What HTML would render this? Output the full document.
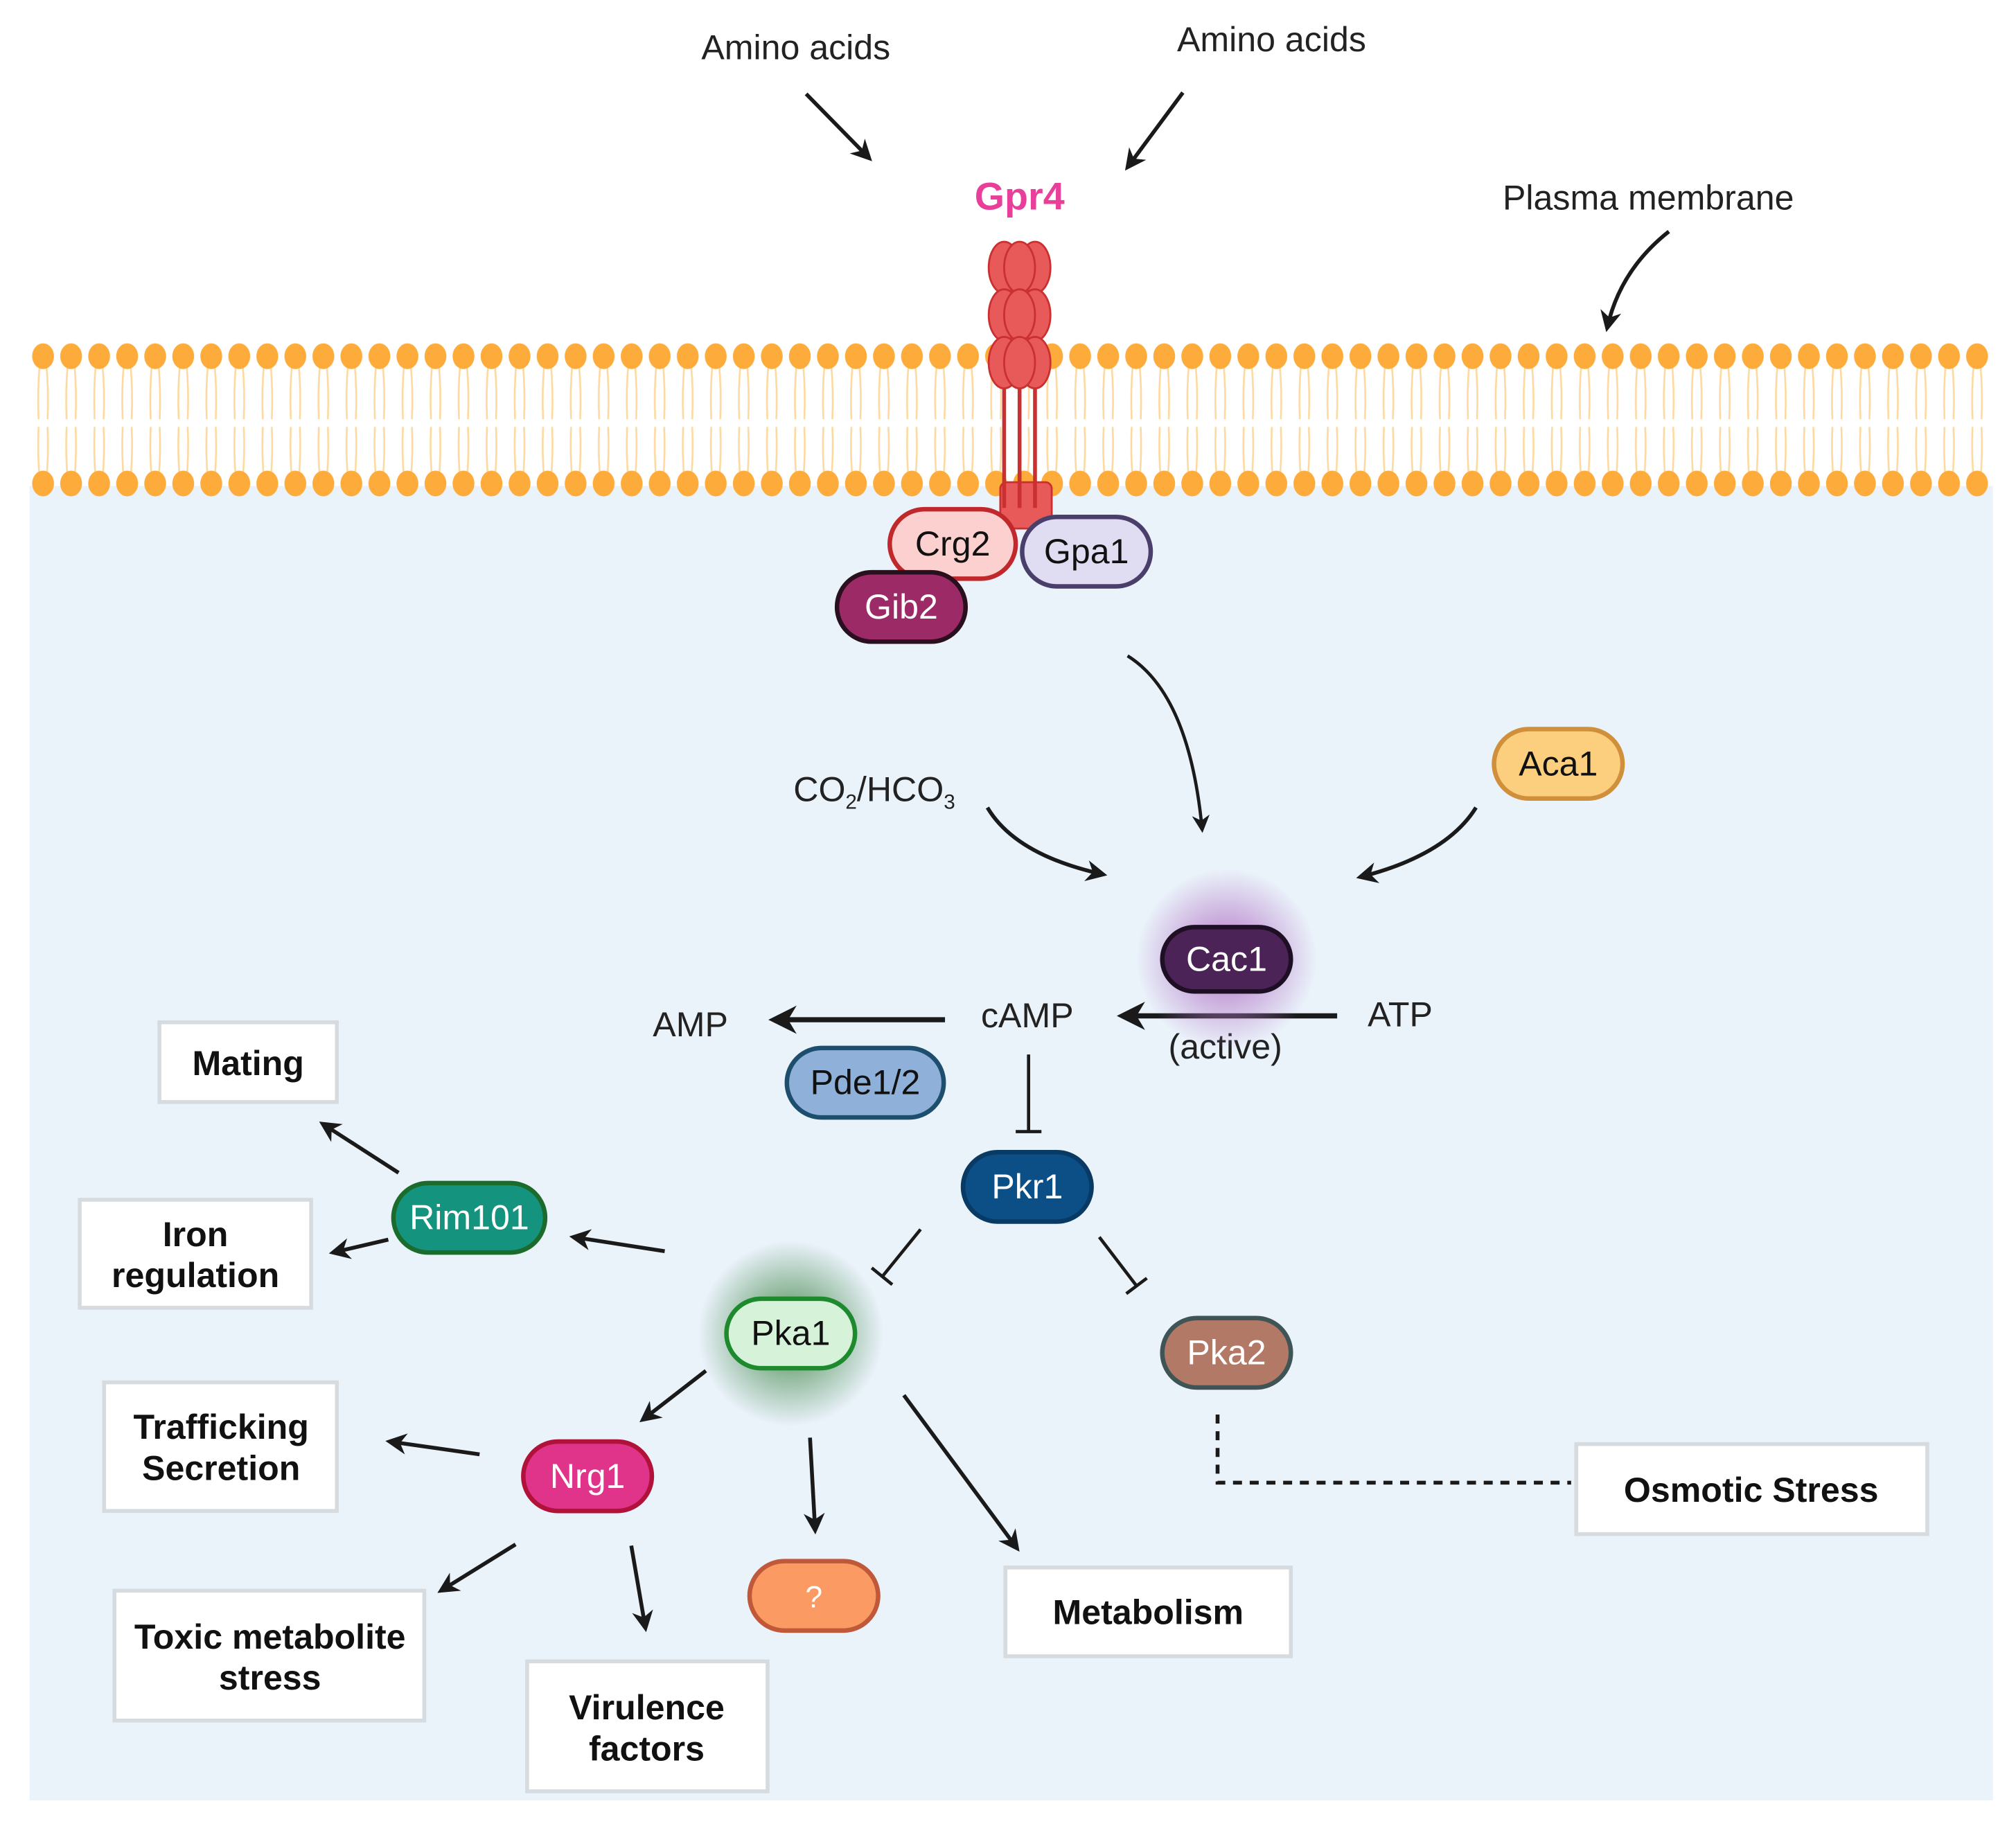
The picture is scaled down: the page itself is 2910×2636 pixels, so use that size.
<!DOCTYPE html>
<html><head><meta charset="utf-8"><style>html,body{margin:0;padding:0;background:#fff}svg{display:block}text{font-family:"Liberation Sans",sans-serif}</style></head>
<body>
<svg width="2910" height="2636" viewBox="0 0 1568 1420" preserveAspectRatio="none" xmlns="http://www.w3.org/2000/svg">
<defs>
<marker id="ar" viewBox="0 0 10 10" refX="8" refY="5" markerWidth="5.5" markerHeight="5.5" orient="auto"><path d="M0,0 L10,5 L0,10 L3,5 z" fill="#1a1a1a"/></marker>
<pattern id="lip" x="23" y="260" width="21.8" height="140" patternUnits="userSpaceOnUse">
<g stroke="#fdd9a0" stroke-width="1.4" fill="none">
<path d="M8,22 Q6,44 7,66"/><path d="M13,22 Q15,44 14,66"/>
<path d="M7,72 Q6,94 8,114"/><path d="M14,72 Q15,94 13,114"/>
</g>
<ellipse cx="10.5" cy="17" rx="8.5" ry="10" fill="#fdab3a"/>
<ellipse cx="10.5" cy="116" rx="8.5" ry="10" fill="#fdab3a"/>
</pattern>
<radialGradient id="gp"><stop offset="0.3" stop-color="#b47ac8" stop-opacity="0.75"/><stop offset="1" stop-color="#b47ac8" stop-opacity="0"/></radialGradient>
<radialGradient id="gg"><stop offset="0.3" stop-color="#4f8f56" stop-opacity="0.75"/><stop offset="1" stop-color="#4f8f56" stop-opacity="0"/></radialGradient>
</defs>
<rect x="23" y="378" width="1527" height="1022" fill="#eaf2fa"/>
<rect x="23" y="260" width="1527" height="130" fill="url(#lip)"/>

<g fill="#e85a5a" stroke="#c9302f" stroke-width="1.5">
<rect x="778" y="375" width="40" height="36" rx="5"/>
<line x1="781" y1="300" x2="781" y2="395" stroke-width="3"/><line x1="793" y1="300" x2="793" y2="395" stroke-width="3"/><line x1="805" y1="300" x2="805" y2="395" stroke-width="3"/>
<ellipse cx="781" cy="208" rx="12" ry="20"/><ellipse cx="805" cy="208" rx="12" ry="20"/><ellipse cx="793" cy="208" rx="12" ry="20"/>
<ellipse cx="781" cy="245" rx="12" ry="20"/><ellipse cx="805" cy="245" rx="12" ry="20"/><ellipse cx="793" cy="245" rx="12" ry="20"/>
<ellipse cx="781" cy="282" rx="12" ry="20"/><ellipse cx="805" cy="282" rx="12" ry="20"/><ellipse cx="793" cy="282" rx="12" ry="20"/>
</g>
<text x="793" y="163" font-size="30" font-weight="bold" fill="#e8409a" text-anchor="middle">Gpr4</text>
<g font-size="27" fill="#222" text-anchor="middle">
<text x="619" y="46">Amino acids</text>
<text x="989" y="40">Amino acids</text>
<text x="1282" y="163">Plasma membrane</text>
<text x="680" y="623">CO<tspan font-size="16" dy="6">2</tspan><tspan dy="-6">/HCO</tspan><tspan font-size="16" dy="6">3</tspan></text>
<text x="799" y="799">cAMP</text>
<text x="1089" y="798">ATP</text>
<text x="953" y="823">(active)</text>
<text x="537" y="806">AMP</text>
</g>
<g stroke="#1a1a1a" stroke-width="3" fill="none" marker-end="url(#ar)">
<line x1="627" y1="73" x2="676" y2="123"/>
<line x1="920" y1="72" x2="877" y2="130"/>
<path d="M1298,180 Q1260,210 1250,255"/>
<path d="M877,510 Q925,540 935,645" stroke-width="2.5"/>
<path d="M768,628 Q790,665 858,680"/>
<path d="M1148,628 Q1125,665 1058,682"/>
<line x1="1040" y1="790" x2="873" y2="790" stroke-width="4"/>
<line x1="735" y1="793" x2="602" y2="793" stroke-width="4"/>
<line x1="517" y1="973" x2="446" y2="962"/>
<line x1="310" y1="912" x2="251" y2="874"/>
<line x1="302" y1="964" x2="259" y2="974"/>
<line x1="549" y1="1066" x2="500" y2="1104"/>
<line x1="373" y1="1131" x2="303" y2="1121"/>
<line x1="401" y1="1201" x2="343" y2="1237"/>
<line x1="491" y1="1202" x2="502" y2="1266"/>
<line x1="630" y1="1118" x2="634" y2="1190"/>
<line x1="703" y1="1085" x2="791" y2="1204"/>
</g>
<g stroke="#1a1a1a" stroke-width="2.5">
<line x1="800" y1="820" x2="800" y2="880"/><line x1="790" y1="880" x2="810" y2="880"/>
<line x1="716" y1="956" x2="686" y2="993"/><line x1="678" y1="986" x2="694" y2="999"/>
<line x1="855" y1="962" x2="884" y2="1000"/><line x1="876" y1="1006" x2="892" y2="994"/>
</g>
<path d="M947,1100 V1153 H1222" stroke="#1a1a1a" stroke-width="3" fill="none" stroke-dasharray="7,6"/>

<circle cx="954" cy="746" r="70" fill="url(#gp)"/>
<circle cx="615" cy="1037" r="72" fill="url(#gg)"/>

<g stroke-width="3.5" font-size="27" text-anchor="middle">
<rect x="692" y="396" width="98" height="54" rx="27" fill="#fdd0d0" stroke="#c0282b"/><text x="741" y="432" fill="#111" stroke="none">Crg2</text>
<rect x="795" y="402" width="100" height="54" rx="27" fill="#e0ddf3" stroke="#4a3f6b"/><text x="845" y="438" fill="#111" stroke="none">Gpa1</text>
<rect x="651" y="445" width="100" height="54" rx="27" fill="#9c2a66" stroke="#2a0f1f"/><text x="701" y="481" fill="#fff" stroke="none">Gib2</text>
<rect x="1162" y="567" width="100" height="54" rx="27" fill="#fbcf7e" stroke="#d08f3a"/><text x="1212" y="603" fill="#111" stroke="none">Aca1</text>
<rect x="904" y="721" width="100" height="50" rx="25" fill="#4b2357" stroke="#1e0f25"/><text x="954" y="755" fill="#fff" stroke="none">Cac1</text>
<rect x="612" y="815" width="122" height="54" rx="27" fill="#8fb0d9" stroke="#1e4e6e"/><text x="673" y="851" fill="#111" stroke="none">Pde1/2</text>
<rect x="749" y="896" width="100" height="54" rx="27" fill="#0b4f86" stroke="#083a63"/><text x="799" y="932" fill="#fff" stroke="none">Pkr1</text>
<rect x="306" y="920" width="118" height="54" rx="27" fill="#14937f" stroke="#1b6b2d"/><text x="365" y="956" fill="#fff" stroke="none">Rim101</text>
<rect x="565" y="1010" width="100" height="54" rx="27" fill="#d6f2d8" stroke="#1e8a2e"/><text x="615" y="1046" fill="#111" stroke="none">Pka1</text>
<rect x="904" y="1025" width="100" height="54" rx="27" fill="#b27a66" stroke="#3e5455"/><text x="954" y="1061" fill="#fff" stroke="none">Pka2</text>
<rect x="407" y="1121" width="100" height="54" rx="27" fill="#e0338a" stroke="#b0123a"/><text x="457" y="1157" fill="#fff" stroke="none">Nrg1</text>
<rect x="583" y="1214" width="100" height="54" rx="27" fill="#fb9a62" stroke="#c0583a"/><text x="633" y="1250" fill="#fff" stroke="none" font-size="24">?</text>
</g>

<g fill="#fff" stroke="#d6dbdf" stroke-width="3">
<rect x="124" y="795" width="138" height="62"/>
<rect x="62" y="933" width="180" height="84"/>
<rect x="81" y="1075" width="181" height="100"/>
<rect x="89" y="1237" width="241" height="101"/>
<rect x="410" y="1292" width="187" height="101"/>
<rect x="782" y="1219" width="222" height="69"/>
<rect x="1226" y="1123" width="273" height="70"/>
</g>
<g font-size="27" font-weight="bold" fill="#111" text-anchor="middle">
<text x="193" y="836">Mating</text>
<text x="152" y="969">Iron</text><text x="152" y="1001">regulation</text>
<text x="172" y="1119">Trafficking</text><text x="172" y="1151">Secretion</text>
<text x="210" y="1282">Toxic metabolite</text><text x="210" y="1314">stress</text>
<text x="503" y="1337">Virulence</text><text x="503" y="1369">factors</text>
<text x="893" y="1263">Metabolism</text>
<text x="1362" y="1168">Osmotic Stress</text>
</g>
</svg>
</body></html>
